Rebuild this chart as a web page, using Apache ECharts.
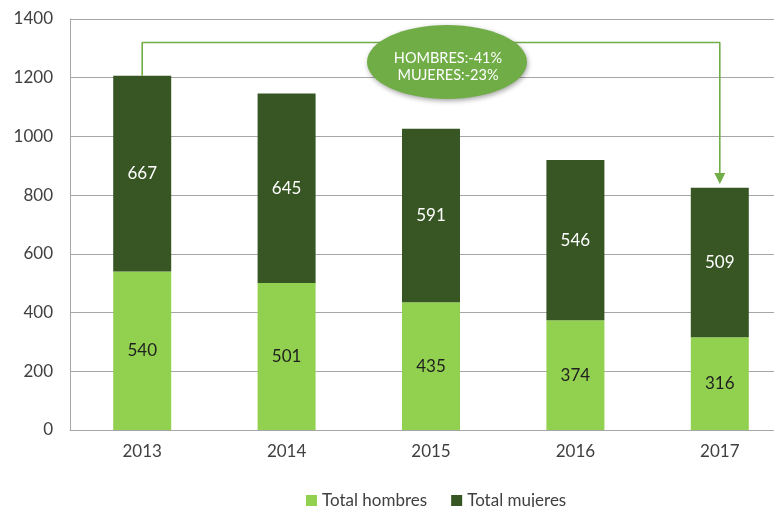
<!DOCTYPE html>
<html>
<head>
<meta charset="utf-8">
<script src="https://cdn.jsdelivr.net/npm/echarts@6/dist/echarts.min.js"></script>
<style>
html,body{margin:0;padding:0;background:#fff;overflow:hidden;width:774px;height:507px;}
#chart{width:800px;height:507px;}
</style>
</head>
<body>
<div id="chart"></div>
<script>
const categories = ['2013', '2014', '2015', '2016', '2017'];
const hombres = [540, 501, 435, 374, 316];
const mujeres = [667, 645, 591, 546, 509];
const seriesNames = ['Total hombres', 'Total mujeres'];
const calloutLines = ['HOMBRES:-41%', 'MUJERES:-23%'];
const yMin = 0, yMax = 1400, yInterval = 200;
const arrowTopValue = 1320;   // height of the connector line
const arrowTipGap = 32;       // arrow head sits just above the 2017 bar

const totals = hombres.map((h, i) => h + mujeres[i]);
const lastIdx = categories.length - 1;
const arrowData = [
  [categories[0], totals[0]],
  [categories[0], arrowTopValue],
  [categories[lastIdx], arrowTopValue],
  { value: [categories[lastIdx], totals[lastIdx] + arrowTipGap], symbol: 'triangle', symbolRotate: 180, symbolSize: [11, 11] }
];

const FONT = 'Lato, "Noto Sans", sans-serif';
const chart = echarts.init(document.getElementById('chart'), null, { renderer: 'canvas' });

chart.setOption({
  animation: false,
  backgroundColor: '#ffffff',
  textStyle: { fontFamily: FONT },
  grid: { left: 70, top: 19, width: 722, height: 411, containLabel: false },
  legend: {
    data: seriesNames,
    top: 487,
    left: 301,
    icon: 'rect',
    itemWidth: 11,
    itemHeight: 11,
    itemGap: 24,
    textStyle: { fontFamily: FONT, fontSize: 17, color: '#404040' }
  },
  xAxis: {
    type: 'category',
    data: categories,
    axisLine: { lineStyle: { color: '#a6a6a6', width: 1 } },
    axisTick: { show: false },
    axisLabel: { fontFamily: FONT, fontSize: 17, color: '#404040', margin: 13 }
  },
  yAxis: {
    type: 'value',
    min: yMin, max: yMax, interval: yInterval,
    axisLine: { show: true, lineStyle: { color: '#a6a6a6', width: 1 } },
    axisTick: { show: false },
    splitLine: { lineStyle: { color: '#a6a6a6', width: 1 } },
    axisLabel: { fontFamily: FONT, fontSize: 17, color: '#404040', margin: 17, formatter: v => String(v) }
  },
  series: [
    {
      name: seriesNames[0], type: 'bar', stack: 'total', barWidth: 58,
      data: hombres,
      itemStyle: { color: '#92D050' },
      label: { show: true, position: 'inside', fontFamily: FONT, fontSize: 17, color: '#1f1f1f' }
    },
    {
      name: seriesNames[1], type: 'bar', stack: 'total', barWidth: 58,
      data: mujeres,
      itemStyle: { color: '#375623' },
      label: { show: true, position: 'inside', fontFamily: FONT, fontSize: 17, color: '#ffffff' }
    },
    {
      name: 'arrow', type: 'line', z: 5,
      data: arrowData,
      symbol: 'none',
      lineStyle: { color: '#70AD47', width: 1.6 },
      itemStyle: { color: '#70AD47' },
      silent: true,
      legendHoverLink: false,
      label: { show: false }
    }
  ],
  graphic: [
    {
      type: 'ellipse', z: 100,
      shape: { cx: 447, cy: 62, rx: 80, ry: 37 },
      style: { fill: '#70AD47', shadowBlur: 5, shadowColor: 'rgba(0,0,0,0.35)', shadowOffsetX: 1, shadowOffsetY: 2 }
    },
    {
      type: 'text', z: 101,
      x: 448, y: 66.5,
      style: {
        text: calloutLines.join('\n'),
        fill: '#ffffff', font: '14.5px ' + FONT,
        align: 'center', verticalAlign: 'middle', lineHeight: 17
      }
    }
  ]
});
</script>
</body>
</html>
